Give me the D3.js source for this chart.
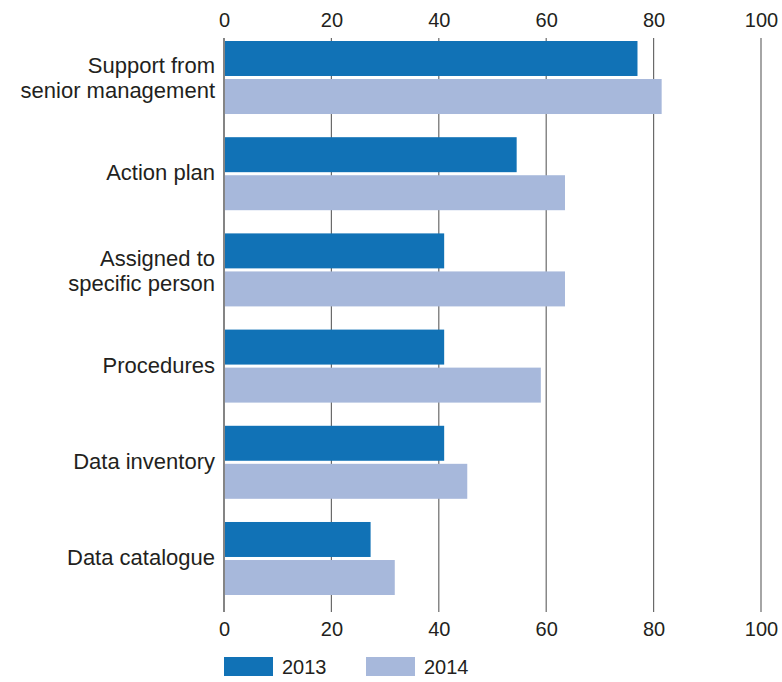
<!DOCTYPE html>
<html>
<head>
<meta charset="utf-8">
<script src="https://cdn.jsdelivr.net/npm/d3@7"></script>
<style>
  body { margin: 0; background: #fff; }
  svg text { font-family: "Liberation Sans", Arial, sans-serif; fill: #231f20; }
</style>
</head>
<body>
<svg class="chart"></svg>
<script>
const width = 782
const height = 682

const categories = [
    "Support from|senior management",
    "Action plan",
    "Assigned to|specific person",
    "Procedures",
    "Data inventory",
    "Data catalogue",
]
const years = ["2013", "2014"]
const values2013 = [77, 54.5, 41, 41, 41, 27.3]
const values2014 = [81.5, 63.5, 63.5, 59, 45.3, 31.8]
const ticks = [0, 20, 40, 60, 80, 100]
const colors = ["#1172b6", "#a7b8db"]

const rows = categories.map((c, i) => ({ name: c, values: [values2013[i], values2014[i]] }))

const svg = d3.select('svg.chart')
    .attr("width", width)
    .attr("height", height)

const x = d3.scaleLinear()
    .domain([0, 100])
    .range([224, 761])

const y = d3.scaleBand()
    .domain(categories)
    .range([41, 595])
    .paddingInner(0.241)

const ySub = d3.scaleBand()
    .domain(years)
    .range([0, y.bandwidth()])
    .paddingInner(0.08)

const gridTop = 38
const gridBottom = 612

// gridlines
svg.append("g")
    .selectAll("line")
    .data(ticks)
    .join("line")
    .attr("x1", d => x(d))
    .attr("x2", d => x(d))
    .attr("y1", gridTop)
    .attr("y2", gridBottom)
    .attr("stroke", d => d === 0 ? "#333" : "#6a6a6a")
    .attr("stroke-width", 1.2)

// top / bottom axes, tick lines removed (gridlines do that)
const topAxis = svg.append("g")
    .attr("transform", `translate(0,${gridTop})`)
    .call(d3.axisTop(x).tickValues(ticks).tickSize(0).tickPadding(11))
const bottomAxis = svg.append("g")
    .attr("transform", `translate(0,${gridBottom})`)
    .call(d3.axisBottom(x).tickValues(ticks).tickSize(0).tickPadding(10))

;[topAxis, bottomAxis].forEach(a => {
    a.select(".domain").remove()
    a.selectAll("text")
        .style("font-size", "20px")
        .style("font-family", "'Liberation Sans', Arial, sans-serif")
        .attr("fill", "#231f20")
})

// bars
const group = svg.append("g")
    .selectAll("g")
    .data(rows)
    .join("g")
    .attr("transform", d => `translate(0,${y(d.name)})`)

group.selectAll("rect")
    .data(d => d.values.map((v, i) => ({ year: years[i], value: v, i })))
    .join("rect")
    .attr("x", x(0) + 1)
    .attr("y", d => ySub(d.year))
    .attr("width", d => x(d.value) - x(0) - 1)
    .attr("height", ySub.bandwidth())
    .attr("fill", d => colors[d.i])

// category labels
const labels = svg.append("g")
    .selectAll("text")
    .data(categories)
    .join("text")
    .attr("text-anchor", "end")
    .style("font-size", "22px")
    .attr("x", 215)
    .attr("y", d => y(d) + y.bandwidth() / 2)

labels.each(function (d) {
    const parts = d.split("|")
    const t = d3.select(this)
    parts.forEach((p, k) => {
        t.append("tspan")
            .attr("x", 215)
            .attr("dy", k === 0 ? (parts.length === 1 ? "0.3em" : "-0.2em") : "1.14em")
            .text(p)
    })
})

// legend
const legend = svg.append("g")
    .selectAll("g")
    .data(years)
    .join("g")
    .attr("transform", (d, i) => `translate(${224 + i * 142},657)`)

legend.append("rect")
    .attr("width", 49)
    .attr("height", 19)
    .attr("fill", (d, i) => colors[i])

legend.append("text")
    .attr("x", 58)
    .attr("y", 10)
    .attr("dy", "0.36em")
    .style("font-size", "20px")
    .text(d => d)
</script>
</body>
</html>
